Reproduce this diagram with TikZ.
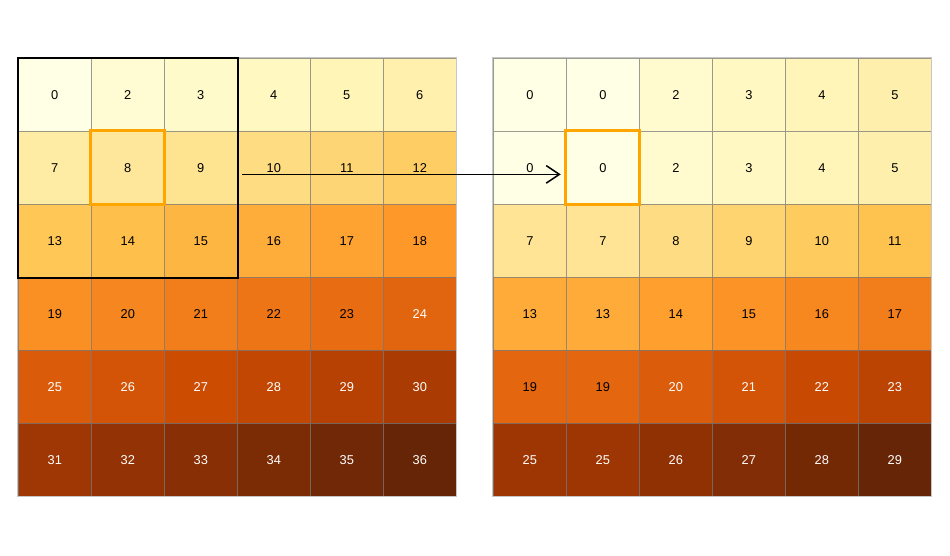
\documentclass[tikz,border=0pt]{standalone}
\usepackage{fontspec}
\setmainfont{Liberation Sans}
\usetikzlibrary{arrows.meta}

\definecolor{yob0}{HTML}{FFFFE5}
\definecolor{yob1}{HTML}{FFF7BC}
\definecolor{yob2}{HTML}{FEE391}
\definecolor{yob3}{HTML}{FEC44F}
\definecolor{yob4}{HTML}{FE9929}
\definecolor{yob5}{HTML}{EC7014}
\definecolor{yob6}{HTML}{CC4C02}
\definecolor{yob7}{HTML}{993404}
\definecolor{yob8}{HTML}{662506}
\definecolor{gridgray}{HTML}{7A7A7A}
\definecolor{boxorange}{HTML}{FFA500}

\tikzset{
  cell/.style={minimum size=1cm, inner sep=0pt, draw=gridgray, draw opacity=0.75,
    line width=0.35pt, font=\fontsize{5}{6}\selectfont},
  frame/.style={draw=gray!45, line width=0.4pt},
  window/.style={draw=black, line width=0.8pt},
  focus/.style={draw=boxorange, line width=1.1pt},
  movearrow/.style={->, line width=0.6pt, >={Straight Barb[length=0.18cm, width=0.24cm]}}
}

% one 6x6 raster: name, left x, max value, values row by row
\newcommand{\rastergrid}[4]{
  \foreach \v [count=\k from 0] in {#4} {
    \pgfmathtruncatemacro\row{floor(\k/6)}
    \pgfmathtruncatemacro\col{mod(\k,6)}
    \pgfmathsetmacro\t{8*\v/#3}
    \pgfmathtruncatemacro\ci{min(floor(\t),7)}
    \pgfmathtruncatemacro\cj{\ci+1}
    \pgfmathtruncatemacro\pc{round(100*(\cj-\t))}
    \pgfmathtruncatemacro\dark{(\v/#3)>0.66}
    \ifnum\dark=1 \def\txt{white}\else\def\txt{black}\fi
    \node[cell, fill=yob\ci!\pc!yob\cj, text=\txt] (#1-\row-\col)
      at (#2+\col+0.5, -0.7986-\row-0.5) {\v};
  }
  \draw[frame] (#1-0-0.north west) rectangle (#1-5-5.south east);
}

\begin{document}
\begin{tikzpicture}
\useasboundingbox (0,0) rectangle (13.014,-7.603);

\rastergrid{L}{0.2507}{36}{0,2,3,4,5,6, 7,8,9,10,11,12, 13,14,15,16,17,18,
  19,20,21,22,23,24, 25,26,27,28,29,30, 31,32,33,34,35,36}
\rastergrid{R}{6.758}{29}{0,0,2,3,4,5, 0,0,2,3,4,5, 7,7,8,9,10,11,
  13,13,14,15,16,17, 19,19,20,21,22,23, 25,25,26,27,28,29}

\draw[window] (L-0-0.north west) rectangle (L-2-2.south east);
\draw[focus] (L-1-1.north west) rectangle (L-1-1.south east);
\draw[focus] (R-1-1.north west) rectangle (R-1-1.south east);

\draw[movearrow] ([xshift=0.06cm, yshift=-0.09cm]L-1-2.east) -- ([xshift=-0.07cm, yshift=-0.09cm]R-1-1.west);
\end{tikzpicture}
\end{document}
